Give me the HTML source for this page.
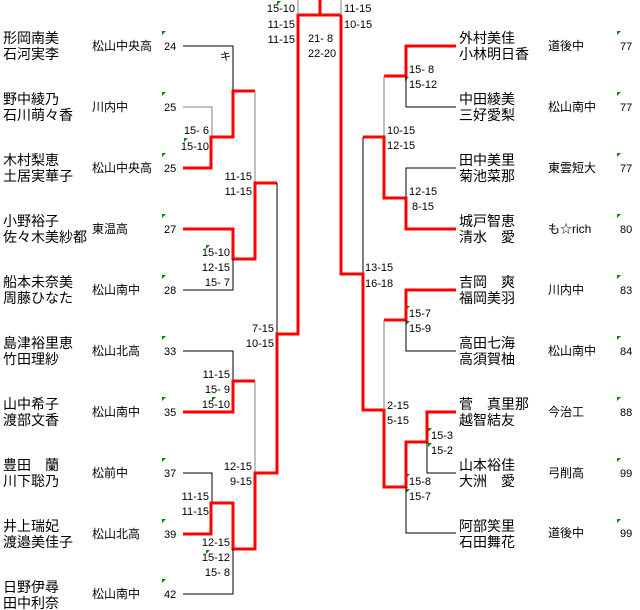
<!DOCTYPE html>
<html><head><meta charset="utf-8"><style>
body{margin:0;background:#fff;}
svg{display:block;font-family:"Liberation Sans","Noto Sans CJK JP",sans-serif;}
.n{font-size:14px;fill:#000}
.s{font-size:12px;fill:#000}
.sc{font-size:11px;fill:#000;}
.e{text-anchor:end}
.r{stroke:#f00;stroke-width:3;fill:none}
.k{stroke:#000;stroke-width:1;fill:none}
.g{stroke:#808080;stroke-width:1;fill:none}
.f{fill:#080}
</style></head><body>
<svg width="640" height="610" viewBox="0 0 640 610">
<g class="n">
<text x="3" y="43">形岡南美</text><text x="3" y="59">石河実李</text>
<text x="3" y="104">野中綾乃</text><text x="3" y="120">石川萌々香</text>
<text x="3" y="165">木村梨恵</text><text x="3" y="181">土居実華子</text>
<text x="3" y="226">小野裕子</text><text x="3" y="242">佐々木美紗都</text>
<text x="3" y="287">船本未奈美</text><text x="3" y="303">周藤ひなた</text>
<text x="3" y="348">島津裕里恵</text><text x="3" y="364">竹田理紗</text>
<text x="3" y="409">山中希子</text><text x="3" y="425">渡部文香</text>
<text x="3" y="470">豊田　蘭</text><text x="3" y="486">川下聡乃</text>
<text x="3" y="531">井上瑞妃</text><text x="3" y="547">渡邉美佳子</text>
<text x="3" y="592">日野伊尋</text><text x="3" y="608">田中利奈</text>
</g>
<g class="s">
<text x="92" y="50">松山中央高</text><text x="92" y="111">川内中</text><text x="92" y="172">松山中央高</text>
<text x="92" y="233">東温高</text><text x="92" y="294">松山南中</text><text x="92" y="355">松山北高</text>
<text x="92" y="416">松山南中</text><text x="92" y="477">松前中</text><text x="92" y="538">松山北高</text>
<text x="92" y="598">松山南中</text>
</g>
<g class="sc">
<text x="164" y="50">24</text><text x="164" y="111">25</text><text x="164" y="172">25</text>
<text x="164" y="233">27</text><text x="164" y="294">28</text><text x="164" y="355">33</text>
<text x="164" y="416">35</text><text x="164" y="477">37</text><text x="164" y="538">39</text>
<text x="164" y="598">42</text>
</g>
<g class="f">
<polygon points="162,31 166,31 162,35"/><polygon points="162,92 166,92 162,96"/><polygon points="162,153 166,153 162,157"/>
<polygon points="162,214 166,214 162,218"/><polygon points="162,275 166,275 162,279"/><polygon points="162,336 166,336 162,340"/>
<polygon points="162,397 166,397 162,401"/><polygon points="162,458 166,458 162,462"/><polygon points="162,519 166,519 162,523"/>
<polygon points="162,579 166,579 162,583"/>
<polygon points="617,31 621,31 617,35"/><polygon points="617,92 621,92 617,96"/><polygon points="617,153 621,153 617,157"/>
<polygon points="617,214 621,214 617,218"/><polygon points="617,275 621,275 617,279"/><polygon points="617,336 621,336 617,340"/>
<polygon points="617,397 621,397 617,401"/><polygon points="617,458 621,458 617,462"/><polygon points="617,519 621,519 617,523"/>
<polygon points="184,138 188,138 184,142"/><polygon points="206,245 210,245 206,249"/><polygon points="212,397 216,397 212,401"/>
<polygon points="206,550 210,550 206,554"/><polygon points="277,1 281,1 277,5"/>
<polygon points="405,77 409,77 405,81"/><polygon points="406,306 410,306 406,310"/><polygon points="406,321 410,321 406,325"/>
<polygon points="428,428 432,428 428,432"/><polygon points="428,443 432,443 428,447"/>
<polygon points="406,474 410,474 406,478"/><polygon points="406,489 410,489 406,493"/>
</g>
<g class="n">
<text x="459" y="43">外村美佳</text><text x="459" y="59">小林明日香</text>
<text x="459" y="104">中田綾美</text><text x="459" y="120">三好愛梨</text>
<text x="459" y="165">田中美里</text><text x="459" y="181">菊池菜那</text>
<text x="459" y="226">城戸智恵</text><text x="459" y="242">清水　愛</text>
<text x="459" y="287">吉岡　爽</text><text x="459" y="303">福岡美羽</text>
<text x="459" y="348">高田七海</text><text x="459" y="364">高須賀柚</text>
<text x="459" y="409">菅　真里那</text><text x="459" y="425">越智結友</text>
<text x="459" y="470">山本裕佳</text><text x="459" y="486">大洲　愛</text>
<text x="459" y="531">阿部笑里</text><text x="459" y="547">石田舞花</text>
</g>
<g class="s">
<text x="548" y="50">道後中</text><text x="548" y="111">松山南中</text><text x="548" y="172">東雲短大</text>
<text x="548" y="233">も☆rich</text><text x="548" y="294">川内中</text><text x="548" y="355">松山南中</text>
<text x="548" y="416">今治工</text><text x="548" y="477">弓削高</text><text x="548" y="537">道後中</text>
</g>
<g class="sc">
<text x="620" y="50">77</text><text x="620" y="111">77</text><text x="620" y="172">77</text>
<text x="620" y="233">80</text><text x="620" y="294">83</text><text x="620" y="355">84</text>
<text x="620" y="416">88</text><text x="620" y="477">99</text><text x="620" y="537">99</text>
</g>
<path class="k" d="M183,46H233V91"/>
<path class="g" d="M183,107H212V137"/>
<path class="r" d="M183,168H211V137H233V91H255"/>
<path class="g" d="M255,91V183"/>
<path class="r" d="M183,229H233V259H255V183H277"/>
<path class="k" d="M183,290H233V259"/>
<path class="k" d="M277,183V334"/>
<path class="k" d="M183,351H233V381"/>
<path class="r" d="M183,412H233V381H255"/>
<path class="g" d="M255,381V549"/>
<path class="k" d="M183,473H212V503"/>
<path class="r" d="M183,534H211V503H233V549H255V473H277V334H298V15H341"/>
<path class="k" d="M183,594H233V549"/>
<path class="g" d="M298,0V15M341,0V15"/>
<path class="r" d="M320,0V15"/>
<path class="r" d="M456,46H406V76H384"/>
<path class="g" d="M384,76V137"/>
<path class="k" d="M456,107H406V76"/>
<path class="k" d="M456,168H406V198"/>
<path class="r" d="M456,229H406V198H384V137H363"/>
<path class="k" d="M363,137V274"/>
<path class="r" d="M341,15V274H363V410H384V487H406V442H427V412H456"/>
<path class="r" d="M456,290H406V320H384"/>
<path class="g" d="M384,320V410"/>
<path class="k" d="M456,351H406V320"/>
<path class="k" d="M456,473H427V442"/>
<path class="k" d="M456,533H406V487"/>
<g class="sc e">
<text x="231" y="60">キ</text>
<text x="209" y="134">15- 6</text><text x="209" y="150">15-10</text>
<text x="252" y="180">11-15</text><text x="252" y="195">11-15</text>
<text x="230" y="256">15-10</text><text x="230" y="271">12-15</text><text x="230" y="286">15- 7</text>
<text x="274" y="332">7-15</text><text x="274" y="347">10-15</text>
<text x="230" y="378">11-15</text><text x="230" y="393">15- 9</text><text x="230" y="408">15-10</text>
<text x="252" y="470">12-15</text><text x="252" y="485">9-15</text>
<text x="209" y="500">11-15</text><text x="209" y="515">11-15</text>
<text x="230" y="546">12-15</text><text x="230" y="561">15-12</text><text x="230" y="576">15- 8</text>
<text x="295" y="12">15-10</text><text x="295" y="28">11-15</text><text x="295" y="43">11-15</text>
</g>
<g class="sc">
<text x="308" y="42">21- 8</text><text x="308" y="57">22-20</text>
<text x="344" y="12">11-15</text><text x="344" y="28">10-15</text>
<text x="409" y="73">15- 8</text><text x="409" y="88">15-12</text>
<text x="387" y="134">10-15</text><text x="387" y="149">12-15</text>
<text x="409" y="195">12-15</text><text x="412" y="210">8-15</text>
<text x="365" y="271">13-15</text><text x="365" y="287">16-18</text>
<text x="409" y="317">15-7</text><text x="409" y="332">15-9</text>
<text x="387" y="409">2-15</text><text x="387" y="424">5-15</text>
<text x="431" y="439">15-3</text><text x="431" y="454">15-2</text>
<text x="409" y="485">15-8</text><text x="409" y="500">15-7</text>
</g>
</svg>
</body></html>
